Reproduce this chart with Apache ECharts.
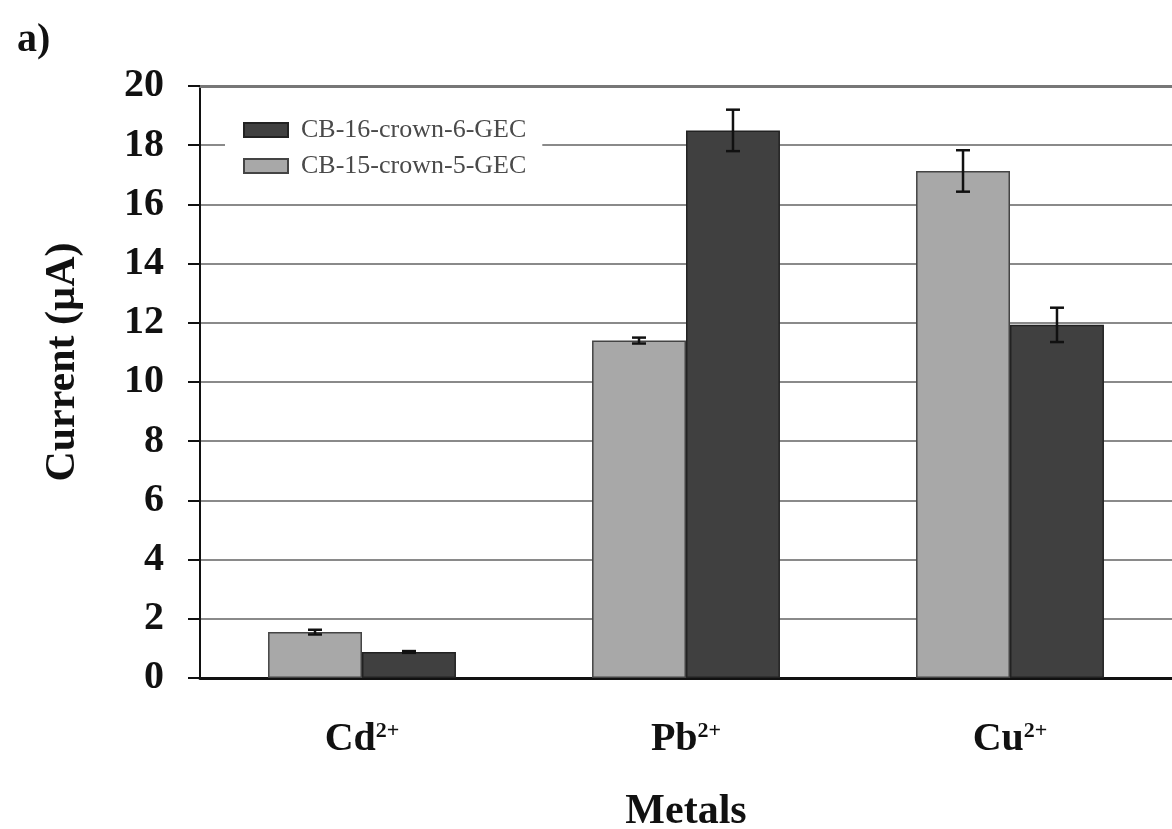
<!DOCTYPE html>
<html>
<head>
<meta charset="utf-8">
<script src="https://cdn.jsdelivr.net/npm/echarts@6/dist/echarts.min.js"></script>
<style>
html,body{margin:0;padding:0;background:#fff;}
#chart{width:1172px;height:829px;}
</style>
</head>
<body>
<div id="chart"></div>
<script>
const categories = ['Cd', 'Pb', 'Cu'];
const seriesNames = ['CB-15-crown-5-GEC', 'CB-16-crown-6-GEC'];
const crown5Values = [1.55, 11.4, 17.13];
const crown5Errors = [0.08, 0.1, 0.7];
const crown6Values = [0.88, 18.5, 11.93];
const crown6Errors = [0.03, 0.7, 0.58];
const yTicks = [0, 2, 4, 6, 8, 10, 12, 14, 16, 18, 20];

const SERIF = '"Liberation Serif", "Times New Roman", serif';
const CAT_GAP = 0.42;

function errorRender(side) {
  return function (params, api) {
    const x = api.value(0), v = api.value(1), e = api.value(2);
    const band = api.size([1, 0])[0];
    const bw = band * (1 - CAT_GAP) / 2;
    const top = api.coord([x, v + e]);
    const bot = api.coord([x, v - e]);
    const cx = top[0] + side * bw / 2;
    const cap = 7;
    const style = { stroke: '#111', lineWidth: 2.5 };
    return {
      type: 'group',
      children: [
        { type: 'line', shape: { x1: cx, y1: top[1], x2: cx, y2: bot[1] }, style },
        { type: 'line', shape: { x1: cx - cap, y1: top[1], x2: cx + cap, y2: top[1] }, style },
        { type: 'line', shape: { x1: cx - cap, y1: bot[1], x2: cx + cap, y2: bot[1] }, style }
      ]
    };
  };
}

const chart = echarts.init(document.getElementById('chart'), null, { renderer: 'canvas' });
chart.setOption({
  backgroundColor: '#fff',
  animation: false,
  title: {
    text: 'a)', left: 12, top: 16,
    textStyle: { fontFamily: SERIF, fontWeight: 'bold', fontSize: 40, color: '#111' }
  },
  legend: {
    data: [seriesNames[1], seriesNames[0]],
    orient: 'vertical',
    left: 225, top: 111,
    padding: [6, 16, 8, 18],
    backgroundColor: '#fff',
    icon: 'rect',
    itemWidth: 44, itemHeight: 14, itemGap: 10,
    textStyle: { fontFamily: SERIF, fontSize: 26, color: '#4a4a4a', padding: [0, 0, 0, 8] }
  },
  grid: { left: 200, right: 0, top: 86, bottom: 151, containLabel: false, outerBoundsMode: 'none' },
  xAxis: [{
    type: 'category',
    data: categories,
    axisLine: { lineStyle: { color: '#111', width: 3 } },
    axisTick: { show: false },
    axisLabel: {
      margin: 42,
      formatter: v => '{m|' + v + '}{s|2+}',
      rich: {
        m: { fontFamily: SERIF, fontWeight: 'bold', fontSize: 40, color: '#111', lineHeight: 40, verticalAlign: 'bottom' },
        s: { fontFamily: SERIF, fontWeight: 'bold', fontSize: 22, color: '#111', lineHeight: 40, verticalAlign: 'top' }
      }
    },
    name: 'Metals',
    nameLocation: 'middle',
    nameGap: 113,
    nameTextStyle: { fontFamily: SERIF, fontWeight: 'bold', fontSize: 42, color: '#111' }
  }, {
    type: 'category',
    data: categories,
    position: 'top',
    axisLine: { lineStyle: { color: '#777', width: 3 } },
    axisTick: { show: false },
    axisLabel: { show: false }
  }],
  yAxis: {
    type: 'value',
    min: 0, max: 20, interval: 2,
    axisLine: { show: true, lineStyle: { color: '#111', width: 2 } },
    axisTick: { show: true, length: 12, lineStyle: { color: '#111', width: 2 } },
    axisLabel: {
      margin: 36,
      formatter: v => yTicks.includes(v) ? String(v) : '',
      fontFamily: SERIF, fontWeight: 'bold', fontSize: 40, color: '#111'
    },
    splitLine: { lineStyle: { color: '#8a8a8a', width: 2 } },
    name: 'Current (µA)',
    nameLocation: 'middle',
    nameGap: 116,
    nameTextStyle: { fontFamily: SERIF, fontWeight: 'bold', fontSize: 42, color: '#111', padding: [0, 0, 0, 40] }
  },
  series: [
    {
      name: seriesNames[0], type: 'bar', data: crown5Values,
      barGap: '0%', barCategoryGap: '42%',
      itemStyle: { color: '#a8a8a8', borderColor: '#444', borderWidth: 1.5 }
    },
    {
      name: seriesNames[1], type: 'bar', data: crown6Values,
      barGap: '0%', barCategoryGap: '42%',
      itemStyle: { color: '#404040', borderColor: '#222', borderWidth: 1.5 }
    },
    {
      type: 'custom', renderItem: errorRender(-1), z: 5,
      data: crown5Values.map((v, i) => [i, v, crown5Errors[i]])
    },
    {
      type: 'custom', renderItem: errorRender(1), z: 5,
      data: crown6Values.map((v, i) => [i, v, crown6Errors[i]])
    }
  ]
});
</script>
</body>
</html>
